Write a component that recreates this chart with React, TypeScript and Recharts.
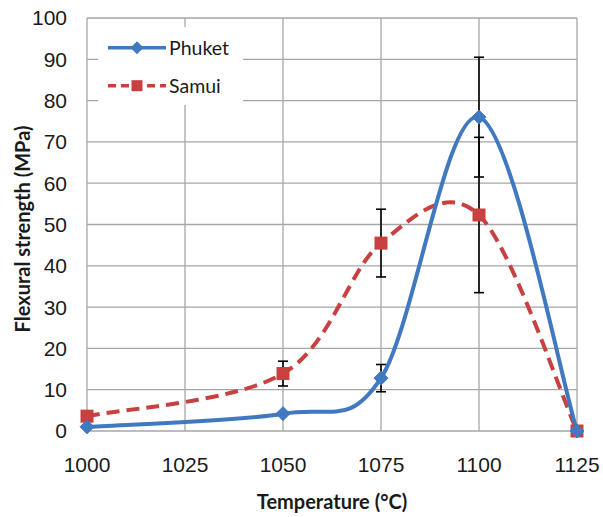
import React from 'react';
import { LineChart, Line, XAxis, YAxis, CartesianGrid, ErrorBar, Legend, Label } from 'recharts';

const temperatures = [1000, 1050, 1075, 1100, 1125];
const phuket = [1.0, 4.2, 12.8, 76.0, 0];
const phuketErr = [0, 0, 3.3, 14.5, 0];
const samui = [3.6, 13.9, 45.5, 52.3, 0];
const samuiErr = [0, 3.0, 8.2, 18.8, 0];
const xTicks = [1000, 1025, 1050, 1075, 1100, 1125];
const yTicks = [0, 10, 20, 30, 40, 50, 60, 70, 80, 90, 100];

const data = temperatures.map((t, i) => ({
  t,
  phuket: phuket[i],
  phuketErr: phuketErr[i],
  samui: samui[i],
  samuiErr: samuiErr[i],
}));

const BLUE = '#4079C0';
const RED = '#C8403F';

// Excel-like smoothed line (Catmull-Rom as cubic Bezier)
const excelCurve: any = (context: any) => {
  let pts: number[][] = [];
  return {
    areaStart() {},
    areaEnd() {},
    lineStart() {
      pts = [];
    },
    lineEnd() {
      const n = pts.length;
      if (!n) return;
      context.moveTo(pts[0][0], pts[0][1]);
      for (let i = 0; i < n - 1; i++) {
        const p0 = pts[Math.max(i - 1, 0)];
        const p1 = pts[i];
        const p2 = pts[i + 1];
        const p3 = pts[Math.min(i + 2, n - 1)];
        context.bezierCurveTo(
          p1[0] + (p2[0] - p0[0]) / 6,
          p1[1] + (p2[1] - p0[1]) / 6,
          p2[0] - (p3[0] - p1[0]) / 6,
          p2[1] - (p3[1] - p1[1]) / 6,
          p2[0],
          p2[1]
        );
      }
    },
    point(x: number, y: number) {
      pts.push([+x, +y]);
    },
  };
};

const Diamond = (props: any) => {
  const { cx, cy } = props;
  if (cx == null || cy == null) return null;
  const r = 7;
  return (
    <path
      key={`d-${cx}`}
      d={`M${cx},${cy - r}L${cx + r},${cy}L${cx},${cy + r}L${cx - r},${cy}Z`}
      fill={BLUE}
      stroke={BLUE}
      strokeWidth={1}
    />
  );
};

const Square = (props: any) => {
  const { cx, cy } = props;
  if (cx == null || cy == null) return null;
  const r = 6;
  return <rect key={`s-${cx}`} x={cx - r} y={cy - r} width={2 * r} height={2 * r} fill={RED} stroke={RED} strokeWidth={1} />;
};

const LegendBox = () => (
  <svg width={145} height={78} style={{ display: 'block', background: '#ffffff' }}>
    <line x1={10} y1={20.7} x2={68} y2={20.7} stroke={BLUE} strokeWidth={3.5} />
    <path d="M39,14.2L45.5,20.7L39,27.2L32.5,20.7Z" fill={BLUE} />
    <text x={71} y={27.5} fontFamily="Lato, 'Open Sans', sans-serif" fontSize={19.5} fill="#1a1a1a">
      Phuket
    </text>
    <line x1={10} y1={58.7} x2={68} y2={58.7} stroke={RED} strokeWidth={3.5} strokeDasharray="8 5" />
    <rect x={33.5} y={53.2} width={11} height={11} fill={RED} />
    <text x={71} y={65.5} fontFamily="Lato, 'Open Sans', sans-serif" fontSize={19.5} fill="#1a1a1a">
      Samui
    </text>
  </svg>
);

const YTitle = () => {
  const x = 30;
  const y = 229;
  return (
    <text
      x={x}
      y={y}
      transform={`rotate(-90, ${x}, ${y})`}
      textAnchor="middle"
      fontFamily="Lato, 'Open Sans', sans-serif"
      fontWeight="bold"
      fontSize={20}
      fill="#1a1a1a"
    >
      Flexural strength (MPa)
    </text>
  );
};

export default function App() {
  return (
    <div style={{ position: 'absolute', left: 0, top: 0, width: 603, height: 517, background: '#ffffff' }}>
      <LineChart width={603} height={517} data={data} margin={{ top: 18, right: 26, left: 0, bottom: 0 }}>
        <CartesianGrid stroke="#a6a6a6" strokeWidth={1.3} />
        <XAxis
          dataKey="t"
          type="number"
          domain={[1000, 1125]}
          ticks={xTicks}
          height={86}
          axisLine={false}
          tickLine={false}
          tickSize={0}
          tickMargin={26}
          tick={{ fontFamily: "'Liberation Sans', Arial, sans-serif", fontSize: 21, fill: '#1a1a1a' }}
        >
          <Label
            value="Temperature (°C)"
            position="insideBottom"
            offset={8}
            style={{ fontFamily: "Lato, 'Open Sans', sans-serif", fontWeight: 'bold', fontSize: 20, fill: '#1a1a1a' }}
          />
        </XAxis>
        <YAxis
          type="number"
          domain={[0, 100]}
          ticks={yTicks}
          width={87}
          axisLine={false}
          tickLine={false}
          tickSize={0}
          tickMargin={20}
          tick={{ fontFamily: "'Liberation Sans', Arial, sans-serif", fontSize: 21, fill: '#1a1a1a' }}
        >
          <Label content={<YTitle />} />
        </YAxis>
        <Legend
          layout="vertical"
          align="center"
          verticalAlign="middle"
          wrapperStyle={{ position: 'absolute', left: 98, top: 27, width: 145, height: 78 }}
          content={() => <LegendBox />}
        />
        <Line
          dataKey="samui"
          name="Samui"
          type={excelCurve}
          stroke={RED}
          strokeWidth={4}
          strokeDasharray="13 7"
          dot={<Square />}
          activeDot={false}
          isAnimationActive={false}
        >
          <ErrorBar dataKey="samuiErr" direction="y" width={5} stroke="#000000" strokeWidth={1.6} />
        </Line>
        <Line
          dataKey="phuket"
          name="Phuket"
          type={excelCurve}
          stroke={BLUE}
          strokeWidth={4}
          dot={<Diamond />}
          activeDot={false}
          isAnimationActive={false}
        >
          <ErrorBar dataKey="phuketErr" direction="y" width={5} stroke="#000000" strokeWidth={1.6} />
        </Line>
      </LineChart>
    </div>
  );
}
